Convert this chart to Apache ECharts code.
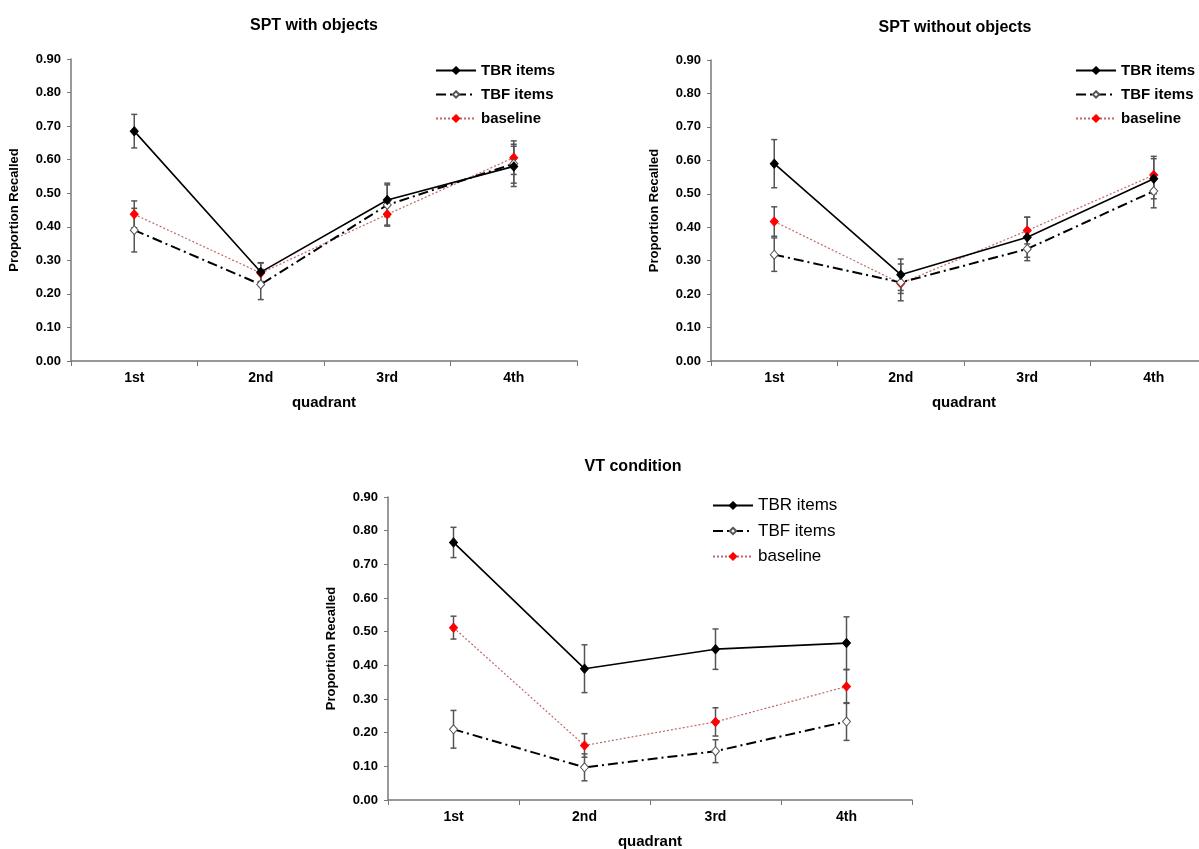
<!DOCTYPE html>
<html>
<head>
<meta charset="utf-8">
<script src="https://cdn.jsdelivr.net/npm/echarts@6/dist/echarts.min.js"></script>
<style>html,body{margin:0;padding:0;background:#fff}#c{width:1199px;height:849px}</style>
</head>
<body>
<div id="c"></div>
<script>
// ---------- data ----------
const categories = ['1st', '2nd', '3rd', '4th'];
const panelTitles = ['SPT with objects', 'SPT without objects', 'VT condition'];
const seriesNames = ['TBR items', 'TBF items', 'baseline'];
const yTicks = ['0.00','0.10','0.20','0.30','0.40','0.50','0.60','0.70','0.80','0.90'];

// SPT with objects
const p1TBR = [0.685, 0.265, 0.480, 0.580];
const p1TBRerr = [0.050, 0.028, 0.050, 0.060];
const p1TBF = [0.390, 0.228, 0.465, 0.588];
const p1TBFerr = [0.065, 0.045, 0.060, 0.058];
const p1Base = [0.437, 0.262, 0.437, 0.606];
const p1BaseErr = [0.040, 0.030, 0.035, 0.050];

// SPT without objects
const p2TBR = [0.590, 0.258, 0.370, 0.545];
const p2TBRerr = [0.072, 0.047, 0.060, 0.060];
const p2TBF = [0.318, 0.235, 0.335, 0.508];
const p2TBFerr = [0.050, 0.055, 0.035, 0.050];
const p2Base = [0.417, 0.232, 0.390, 0.556];
const p2BaseErr = [0.044, 0.030, 0.040, 0.056];

// VT condition
const p3TBR = [0.765, 0.390, 0.448, 0.466];
const p3TBRerr = [0.045, 0.071, 0.060, 0.078];
const p3TBF = [0.210, 0.097, 0.145, 0.233];
const p3TBFerr = [0.056, 0.040, 0.034, 0.056];
const p3Base = [0.512, 0.162, 0.232, 0.337];
const p3BaseErr = [0.034, 0.035, 0.042, 0.050];

// ---------- layout ----------
const FONT = 'Liberation Sans, Arial, sans-serif';
const grids = [
  {left: 71, top: 59, width: 506, height: 302},
  {left: 711, top: 60, width: 506, height: 301},
  {left: 388, top: 497, width: 524, height: 303}
];
const titlePos = [{x: 309, y: 13}, {x: 950, y: 15}, {x: 628, y: 454}];
const legendPos = [
  {left: 435, top: 63, size: 15, weight: 'bold', gap: 9},
  {left: 1075, top: 63, size: 15, weight: 'bold', gap: 9},
  {left: 712, top: 497, size: 17, weight: 'normal', gap: 8.5}
];

const panels = [
  [p1TBR, p1TBRerr, p1TBF, p1TBFerr, p1Base, p1BaseErr],
  [p2TBR, p2TBRerr, p2TBF, p2TBFerr, p2Base, p2BaseErr],
  [p3TBR, p3TBRerr, p3TBF, p3TBFerr, p3Base, p3BaseErr]
];

const lineStyles = [
  {color: '#000', width: 1.6, type: 'solid'},
  {color: '#000', width: 2, type: [10, 4, 2, 4]},
  {color: '#c06868', width: 1.2, type: [2, 2]}
];
const itemStyles = [
  {color: '#000', borderColor: '#000', borderWidth: 1},
  {color: '#fff', borderColor: '#555', borderWidth: 1},
  {color: '#ff0000', borderColor: '#ff0000', borderWidth: 1}
];

function renderErr(params, api) {
  const lo = api.coord([api.value(0), api.value(1)]);
  const hi = api.coord([api.value(0), api.value(2)]);
  const w = 3;
  const st = {stroke: '#555', lineWidth: 1.5};
  return {type: 'group', children: [
    {type: 'line', shape: {x1: hi[0], y1: hi[1], x2: lo[0], y2: lo[1]}, style: st},
    {type: 'line', shape: {x1: hi[0] - w, y1: hi[1], x2: hi[0] + w, y2: hi[1]}, style: st},
    {type: 'line', shape: {x1: lo[0] - w, y1: lo[1], x2: lo[0] + w, y2: lo[1]}, style: st}
  ]};
}

const option = {
  backgroundColor: '#fff',
  animation: false,
  title: panelTitles.map((t, i) => ({
    text: t, left: titlePos[i].x, top: titlePos[i].y, textAlign: 'center',
    textStyle: {fontFamily: FONT, fontSize: 16, fontWeight: 'bold', color: '#000'}
  })),
  grid: grids.map(g => Object.assign({containLabel: false, outerBoundsMode: 'none'}, g)),
  legend: legendPos.map((l, i) => ({
    orient: 'vertical', left: l.left, top: l.top, padding: 0,
    itemWidth: 40, itemHeight: 8, itemGap: l.gap,
    selectedMode: false,
    data: seriesNames,
    textStyle: {fontFamily: FONT, fontSize: l.size, fontWeight: l.weight, color: '#000'}
  })),
  xAxis: grids.map((g, i) => ({
    type: 'category', gridIndex: i, data: categories, boundaryGap: true,
    name: 'quadrant', nameLocation: 'middle', nameGap: 34,
    nameTextStyle: {fontFamily: FONT, fontSize: 15, fontWeight: 'bold', color: '#000'},
    axisLine: {lineStyle: {color: '#777', width: 1.5}},
    axisTick: {show: true, length: 5, lineStyle: {color: '#777'}},
    axisLabel: {fontFamily: FONT, fontSize: 14, fontWeight: 'bold', color: '#000', margin: 10},
    splitLine: {show: false}
  })),
  yAxis: grids.map((g, i) => ({
    type: 'value', gridIndex: i, min: 0, max: 0.9, interval: 0.1,
    name: 'Proportion Recalled', nameLocation: 'middle', nameGap: 50, nameRotate: 90,
    nameTextStyle: {fontFamily: FONT, fontSize: 13, fontWeight: 'bold', color: '#000'},
    axisLine: {show: true, lineStyle: {color: '#777', width: 1.5}},
    axisTick: {show: true, length: 4, lineStyle: {color: '#777'}},
    axisLabel: {fontFamily: FONT, fontSize: 13, fontWeight: 'bold', color: '#000', margin: 10,
      formatter: v => yTicks[Math.round(v * 10)]},
    splitLine: {show: false}
  })),
  series: []
};

panels.forEach((p, pi) => {
  for (let s = 0; s < 3; s++) {
    const vals = p[s * 2], errs = p[s * 2 + 1];
    option.series.push({
      type: 'custom', xAxisIndex: pi, yAxisIndex: pi, z: 1,
      renderItem: renderErr, silent: true,
      data: vals.map((v, k) => [k, v - errs[k], v + errs[k]])
    });
  }
  for (let s = 2; s >= 0; s--) {
    const vals = p[s * 2];
    option.series.push({
      name: seriesNames[s], type: 'line', xAxisIndex: pi, yAxisIndex: pi, z: 3 + (2 - s),
      data: vals, symbol: 'diamond', symbolSize: [8, 9], showSymbol: true,
      lineStyle: lineStyles[s], itemStyle: itemStyles[s], silent: true
    });
  }
});

const chart = echarts.init(document.getElementById('c'), null, {renderer: 'canvas'});
chart.setOption(option);
</script>
</body>
</html>
